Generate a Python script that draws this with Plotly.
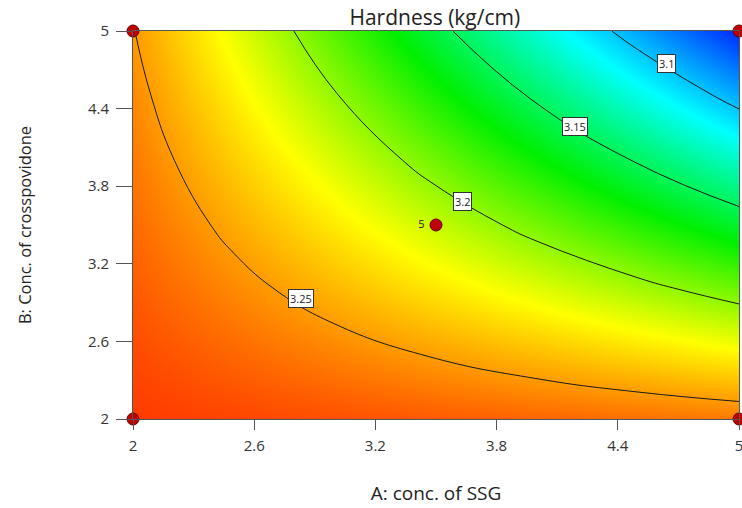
import plotly.graph_objects as go

# Factor levels (grid where the response was read)
A_levels = [2.0, 2.5, 3.0, 3.5, 4.0, 4.5, 5.0]
B_levels = [2.0, 2.5, 3.0, 3.5, 4.0, 4.5, 5.0]

# Hardness (kg/cm) read on the grid, rows = B levels (bottom to top), cols = A levels
hardness = [
    [3.2760, 3.2732, 3.2703, 3.2675, 3.2647, 3.2618, 3.2590],
    [3.2718, 3.2641, 3.2565, 3.2488, 3.2411, 3.2335, 3.2258],
    [3.2675, 3.2551, 3.2426, 3.2301, 3.2176, 3.2052, 3.1927],
    [3.2633, 3.2460, 3.2287, 3.2114, 3.1941, 3.1768, 3.1595],
    [3.2591, 3.2369, 3.2148, 3.1927, 3.1706, 3.1485, 3.1263],
    [3.2548, 3.2279, 3.2010, 3.1740, 3.1471, 3.1201, 3.0932],
    [3.2506, 3.2188, 3.1871, 3.1553, 3.1235, 3.0918, 3.0600],
]

# Design points
design_A = [2, 2, 5, 5, 3.5]
design_B = [2, 5, 2, 5, 3.5]
design_text = ["", "", "", "", "5 "]

# Contour label texts and where they sit
label_text = ["3.1", "3.15", "3.2", "3.25"]
label_A = [4.64, 4.19, 3.63, 2.83]
label_B = [4.75, 4.26, 3.68, 2.93]

tick_vals = [2, 2.6, 3.2, 3.8, 4.4, 5]
tick_text = ["2", "2.6", "3.2", "3.8", "4.4", "5"]

colorscale = [
    [0.0, "rgb(0,40,255)"],
    [0.25, "rgb(0,255,255)"],
    [0.5, "rgb(0,240,0)"],
    [0.75, "rgb(255,255,0)"],
    [1.0, "rgb(255,50,0)"],
]

fig = go.Figure()
fig.add_trace(go.Contour(
    x=A_levels, y=B_levels, z=hardness,
    colorscale=colorscale, zmin=3.06, zmax=3.278,
    contours=dict(coloring="heatmap", start=3.1, end=3.25, size=0.05, showlabels=False),
    line=dict(color="#1a1a1a", width=1, smoothing=1.3),
    showscale=False, hoverinfo="skip",
))
fig.add_trace(go.Scatter(
    x=design_A, y=design_B, mode="markers+text",
    text=design_text, textposition="middle left",
    textfont=dict(family="Open Sans", size=11, color="#222"),
    marker=dict(size=12, color="#c00000", line=dict(color="#600000", width=1)),
    cliponaxis=False, showlegend=False, hoverinfo="skip",
))

for t, a, b in zip(label_text, label_A, label_B):
    fig.add_annotation(
        x=a, y=b, text=t, showarrow=False,
        font=dict(family="Open Sans", size=11, color="#222"),
        bgcolor="white", bordercolor="#333", borderwidth=1, borderpad=1,
    )

axis_common = dict(
    range=[2, 5], tickvals=tick_vals, ticktext=tick_text,
    showgrid=False, zeroline=False, showline=True, linecolor="#555", linewidth=1,
    mirror=True, ticks="outside", tickcolor="#555",
    tickfont=dict(family="Open Sans", size=15, color="#333"),
    ticklabeloverflow="allow", automargin=False,
)
fig.update_xaxes(**axis_common, ticklen=10, ticklabelstandoff=3,
                 title=dict(text="A: conc. of SSG", font=dict(family="Open Sans", size=19, color="#222"),
                            standoff=32))
fig.update_yaxes(**axis_common, ticklen=16, ticklabelstandoff=4,
                 title=dict(text="B: Conc. of crosspovidone", font=dict(family="Open Sans", size=16.5, color="#222"),
                            standoff=52))

fig.update_layout(
    width=742, height=508,
    margin=dict(l=133, r=3, t=31, b=89),
    paper_bgcolor="white", plot_bgcolor="white",
    title=dict(text="Hardness (kg/cm)", x=0.586, xanchor="center", y=0.965, yanchor="middle",
               font=dict(family="Open Sans", size=21, color="#222")),
)

fig.write_html("out.html")
